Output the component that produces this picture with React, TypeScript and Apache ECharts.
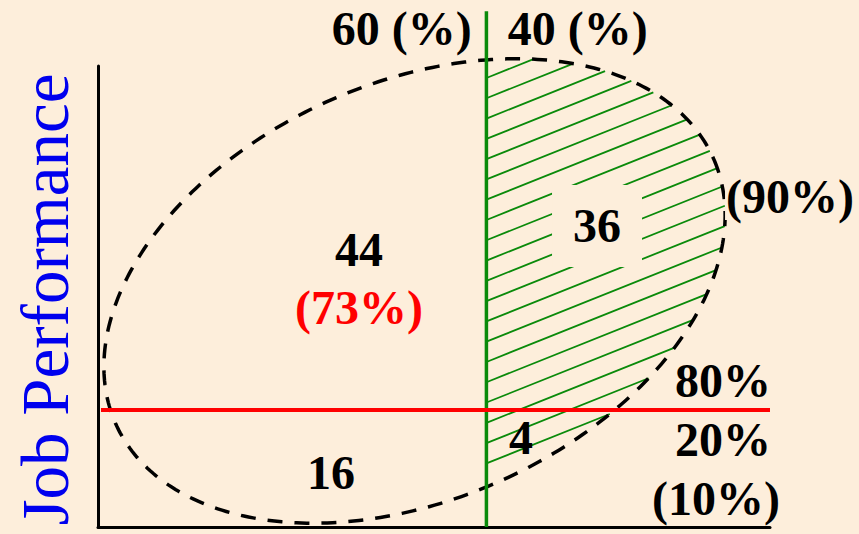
import React, { useEffect, useRef } from 'react';
import * as echarts from 'echarts';

// ---- data (abstract score units, both axes 0..100) ----
const xExtent = [0, 100];
const yExtent = [0, 100];
const predictorCut = 57.8;      // green vertical cut: 60 (%) | 40 (%)
const performanceCut = 25.4;    // red horizontal cut: 80% above / 20% below
const dividerTop = 111.9;       // green line runs above the plot
const ellipseCenter = [47.1, 51.2];
const ellipseAxisU = [44.5, 28.7];   // conjugate semi-diameter 1
const ellipseAxisV = [12.5, -41.4];  // conjugate semi-diameter 2
const hatchFirstY = 97.4;
const hatchStepY = 4.4;
const hatchCount = 20;
const hatchSlope = 0.583;

const labelTexts = ['60 (%)', '40 (%)', '(90%)', '36', '44', '(73%)', '80%', '20%', '(10%)', '4', '16'];
const labelX = [45.2, 71.4, 102.98, 74.26, 38.84, 38.84, 93.0, 93.0, 91.96, 62.95, 34.67];
const labelY = [108.2, 108.2, 71.8, 65.3, 60.1, 47.7, 31.7, 18.9, 6.1, 19.5, 11.9];

// ---- styles ----
const BG = '#fdeedb';
const GREEN = '#0a8a0a';
const RED = '#ff0000';
const SERIF = '"Liberation Serif", "Times New Roman", serif';
const labelStyle: Record<string, any> = {
  '(73%)': { fill: RED },
  '36': { backgroundColor: BG, padding: [17, 21] },
  '(90%)': { backgroundColor: BG, padding: [0, 1] },
};

export default function App() {
  const ref = useRef<HTMLDivElement>(null);
  useEffect(() => {
    document.body.style.margin = '0';
    document.body.style.background = BG;
    const chart = echarts.init(ref.current!, null, { renderer: 'svg' });
    const [cx, cy] = ellipseCenter;
    const [ux, uy] = ellipseAxisU;
    const [vx, vy] = ellipseAxisV;
    const det = ux * vy - vx * uy;
    const toUnit = (px: number, py: number) => {
      const dx = px - cx, dy = py - cy;
      return [(vy * dx - vx * dy) / det, (-uy * dx + ux * dy) / det];
    };

    const axisCommon = {
      type: 'value',
      axisLine: { show: true, onZero: false, lineStyle: { color: '#000', width: 3 } },
      axisTick: { show: false },
      axisLabel: { show: false },
      splitLine: { show: false },
    };

    chart.setOption({
      animation: false,
      backgroundColor: BG,
      grid: { left: 98, right: 89, top: 66, bottom: 7, containLabel: false, outerBoundsMode: 'none' },
      xAxis: { ...axisCommon, min: xExtent[0], max: xExtent[1] },
      yAxis: {
        ...axisCommon,
        min: yExtent[0],
        max: yExtent[1],
        name: 'Job Performance',
        nameLocation: 'middle',
        nameRotate: 90,
        nameGap: 20,
        nameTextStyle: { fontFamily: SERIF, fontSize: 67, color: '#0000ee', padding: [0, 6, 0, 0] },
      },
      series: [
        {
          type: 'custom',
          clip: false,
          z: 1,
          data: [[0, 0]],
          renderItem: (params: any, api: any) => {
            const children: any[] = [];
            const dq = [(vy - vx * hatchSlope) / det, (-uy + ux * hatchSlope) / det];
            for (let k = 0; k < hatchCount; k++) {
              const y0 = hatchFirstY - k * hatchStepY;
              const q0 = toUnit(predictorCut, y0);
              const A = dq[0] * dq[0] + dq[1] * dq[1];
              const B = 2 * (q0[0] * dq[0] + q0[1] * dq[1]);
              const C = q0[0] * q0[0] + q0[1] * q0[1] - 1;
              const disc = B * B - 4 * A * C;
              if (disc <= 0) continue;
              const s1 = (-B - Math.sqrt(disc)) / (2 * A);
              const s2 = (-B + Math.sqrt(disc)) / (2 * A);
              const sa = Math.max(0, s1);
              if (s2 <= sa) continue;
              const p1 = api.coord([predictorCut + sa, y0 + sa * hatchSlope]);
              const p2 = api.coord([predictorCut + s2, y0 + s2 * hatchSlope]);
              children.push({
                type: 'line',
                shape: { x1: p1[0], y1: p1[1], x2: p2[0], y2: p2[1] },
                style: { stroke: GREEN, lineWidth: 1.8 },
              });
            }
            return { type: 'group', children };
          },
        },
        {
          type: 'custom',
          clip: false,
          z: 2,
          data: [[0, 0]],
          renderItem: (params: any, api: any) => {
            const pts: number[][] = [];
            const n = 360;
            for (let i = 0; i < n; i++) {
              const t = (i / n) * Math.PI * 2;
              pts.push(api.coord([cx + ux * Math.cos(t) + vx * Math.sin(t), cy + uy * Math.cos(t) + vy * Math.sin(t)]));
            }
            return {
              type: 'polygon',
              shape: { points: pts },
              style: { fill: 'none', stroke: '#000', lineWidth: 3.5, lineDash: [15, 12] },
            };
          },
        },
        {
          type: 'custom',
          clip: false,
          z: 3,
          data: [[0, 0]],
          renderItem: (params: any, api: any) => {
            const g1 = api.coord([predictorCut, yExtent[0]]);
            const g2 = api.coord([predictorCut, dividerTop]);
            const r1 = api.coord([xExtent[0], performanceCut]);
            const r2 = api.coord([xExtent[1], performanceCut]);
            return {
              type: 'group',
              children: [
                { type: 'line', shape: { x1: g1[0], y1: g1[1], x2: g2[0], y2: g2[1] }, style: { stroke: GREEN, lineWidth: 3.5 } },
                { type: 'line', shape: { x1: r1[0] + 3, y1: r1[1], x2: r2[0], y2: r2[1] }, style: { stroke: RED, lineWidth: 4 } },
              ],
            };
          },
        },
        {
          type: 'custom',
          clip: false,
          z: 4,
          data: labelX.map((x, i) => [x, labelY[i]]),
          renderItem: (params: any, api: any) => {
            const i = params.dataIndex;
            const p = api.coord([labelX[i], labelY[i]]);
            const extra = labelStyle[labelTexts[i]] || {};
            return {
              type: 'text',
              x: p[0],
              y: p[1],
              style: {
                text: labelTexts[i],
                fill: '#000',
                fontFamily: SERIF,
                fontWeight: 'bold',
                fontSize: 48,
                align: 'center',
                verticalAlign: 'middle',
                ...extra,
              },
            };
          },
        },
      ],
    });
    return () => chart.dispose();
  }, []);
  return <div ref={ref} style={{ width: 859, height: 534 }} />;
}
